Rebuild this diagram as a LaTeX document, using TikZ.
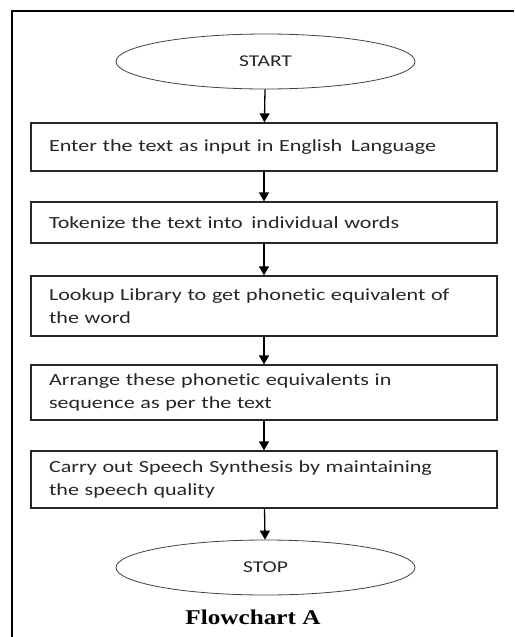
\documentclass[tikz,border=0pt]{standalone}
\usepackage{fontspec}
\setmainfont{Carlito}[FakeStretch=1.3,Ligatures=NoCommon]
\newfontfamily\capfont{Liberation Serif}[FakeStretch=1.2]
\usetikzlibrary{shapes.geometric}
\usetikzlibrary{arrows.meta}

\tikzset{
  term/.style={ellipse,draw=black!75,line width=0.8pt,minimum width=299pt,minimum height=55pt,inner sep=0pt,font=\fontsize{16.5}{20}\selectfont,text=black!85},
  stepbox/.style={rectangle,draw=black!85,line width=1.3pt,minimum width=456pt,text width=430pt,inner sep=18pt,inner ysep=0pt,align=left,font=\fontsize{17}{23}\selectfont,text=black!85},
  flow/.style={line width=1.3pt,-{Triangle[length=9pt,width=10pt]}}
}

\begin{document}
\begin{tikzpicture}[x=1pt,y=-1pt]
\useasboundingbox (0,0) rectangle (514,637);
\draw[line width=2pt] (12,637) -- (12,11) -- (514,11); % frame
\node[term] (start) at (265.5,61.5) {START};
\node[stepbox,minimum height=48pt] (input) at (264,147) {Enter the text as input in English\, Language};
\node[stepbox,minimum height=41pt] (token) at (264,222.5) {Tokenize the text into\, individual words};
\node[stepbox,minimum height=60pt] (lookup) at (264,306) {Lookup Library to get phonetic equivalent of\\the word};
\node[stepbox,minimum height=55pt] (arrange) at (264,392.5) {Arrange these phonetic equivalents in\\sequence as per the text};
\node[stepbox,minimum height=57pt] (synth) at (264,479.5) {Carry out Speech Synthesis by maintaining\\the speech quality};
\node[term] (stop) at (265.5,567.5) {STOP};
\node[font=\capfont\bfseries\fontsize{21}{24}\selectfont] (title) at (253,617) {Flowchart A};
% arrows
\draw[flow] (start) -- (input);
\draw[flow] (input) -- (token);
\draw[flow] (token) -- (lookup);
\draw[flow] (lookup) -- (arrange);
\draw[flow] (arrange) -- (synth);
\draw[flow] (synth) -- (stop);
\end{tikzpicture}
\end{document}
